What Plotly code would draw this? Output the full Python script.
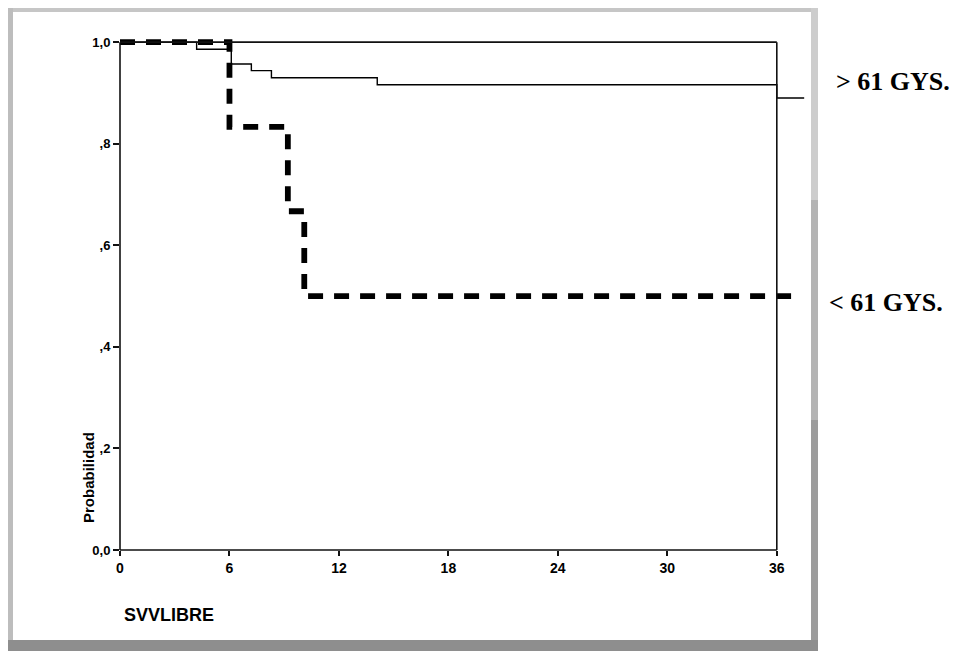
import plotly.graph_objects as go

# ---- data ----
hi_times = [0, 4.2, 6.1, 7.2, 8.3, 14.1, 36.0, 37.5]
hi_surv = [1.0, 0.986, 0.957, 0.944, 0.930, 0.916, 0.890, 0.890]
lo_times = [0, 6.0, 9.2, 10.1, 37.2]
lo_surv = [1.0, 0.833, 0.667, 0.5, 0.5]

x_ticks = [0, 6, 12, 18, 24, 30, 36]
x_ticktext = ["0", "6", "12", "18", "24", "30", "36"]
y_ticks = [0.0, 0.2, 0.4, 0.6, 0.8, 1.0]
y_ticktext = ["0,0", ",2", ",4", ",6", ",8", "1,0"]

labels = ["> 61 GYS.", "< 61 GYS."]

# page body has an 8px margin: work in screenshot pixels, then offset
OFF = 8
SW, SH = 964, 651
W, H = SW - OFF, SH - OFF
L_s, R_s, T_s, B_s = 120, 806, 32, 550   # plot area in screenshot pixels
L, T = L_s - OFF, T_s - OFF
R, B = SW - R_s, SH - B_s
XR = [0, 37.6]
YR = [0, 1.02]
pw, ph = R_s - L_s, B_s - T_s


def px(xp):
    return (xp - L_s) / pw


def py(yp):
    return (B_s - yp) / ph


def dx(v):
    return (v - XR[0]) / (XR[1] - XR[0])


def dy(v):
    return (v - YR[0]) / (YR[1] - YR[0])


fig = go.Figure()
fig.add_trace(go.Scatter(x=hi_times, y=hi_surv, mode="lines", line_shape="hv",
                         line=dict(color="black", width=1.4), name=labels[0],
                         showlegend=False))
fig.add_trace(go.Scatter(x=lo_times, y=lo_surv, mode="lines", line_shape="hv",
                         line=dict(color="black", width=5.8, dash="15px,11px"),
                         name=labels[1], showlegend=False))

shapes = []
# plot frame (axes box up to 36)
for (x0, y0, x1, y1) in [(0, 0, 36, 0), (0, 0, 0, 1), (0, 1, 36, 1), (36, 0, 36, 1)]:
    shapes.append(dict(type="line", xref="paper", yref="paper",
                       x0=dx(x0), y0=dy(y0), x1=dx(x1), y1=dy(y1),
                       line=dict(color="#111", width=1.6), layer="above"))


# scanned gray border
def rect(x0, y0, x1, y1, color):
    shapes.append(dict(type="rect", xref="paper", yref="paper",
                       x0=px(x0), x1=px(x1), y0=py(y1), y1=py(y0),
                       fillcolor=color, line=dict(width=0), layer="below"))


rect(8, 8, 818, 12, "#c6c6c6")
rect(8, 8, 13, 648, "#bdbdbd")
rect(811, 8, 818, 200, "#cdcdcd")
rect(811, 200, 818, 420, "#b4b4b4")
rect(811, 420, 818, 651, "#9c9c9c")
rect(8, 640, 818, 651, "#8e8e8e")

annotations = [
    dict(text="Probabilidad", xref="paper", yref="paper", x=px(88), y=py(478),
         textangle=-90, showarrow=False, xanchor="center", yanchor="middle",
         font=dict(family="Liberation Sans", size=15, weight="bold", color="black")),
    dict(text="SVVLIBRE", xref="paper", yref="paper", x=px(122), y=py(615),
         xanchor="left", yanchor="middle", showarrow=False,
         font=dict(family="Liberation Sans", size=18, weight="bold", color="black")),
    dict(text=labels[0], xref="paper", yref="paper", x=px(834), y=py(81),
         xanchor="left", yanchor="middle", showarrow=False,
         font=dict(family="Liberation Serif", size=26, weight="bold", color="black")),
    dict(text=labels[1], xref="paper", yref="paper", x=px(827), y=py(302),
         xanchor="left", yanchor="middle", showarrow=False,
         font=dict(family="Liberation Serif", size=26, weight="bold", color="black")),
]

fig.update_layout(
    width=W, height=H,
    margin=dict(l=L, r=R, t=T, b=B),
    paper_bgcolor="white", plot_bgcolor="white",
    shapes=shapes, annotations=annotations,
    xaxis=dict(range=XR, tickvals=x_ticks, ticktext=x_ticktext, showgrid=False,
               zeroline=False, showline=False, ticks="outside", ticklen=5,
               tickwidth=1.5, tickcolor="#111",
               tickfont=dict(family="Liberation Sans", size=14, weight="bold", color="black")),
    yaxis=dict(range=YR, tickvals=y_ticks, ticktext=y_ticktext, showgrid=False,
               zeroline=False, showline=False, ticks="outside", ticklen=6,
               tickwidth=1.5, tickcolor="#111",
               tickfont=dict(family="Liberation Sans", size=13, weight="bold", color="black")),
)

fig.write_html("out.html")
